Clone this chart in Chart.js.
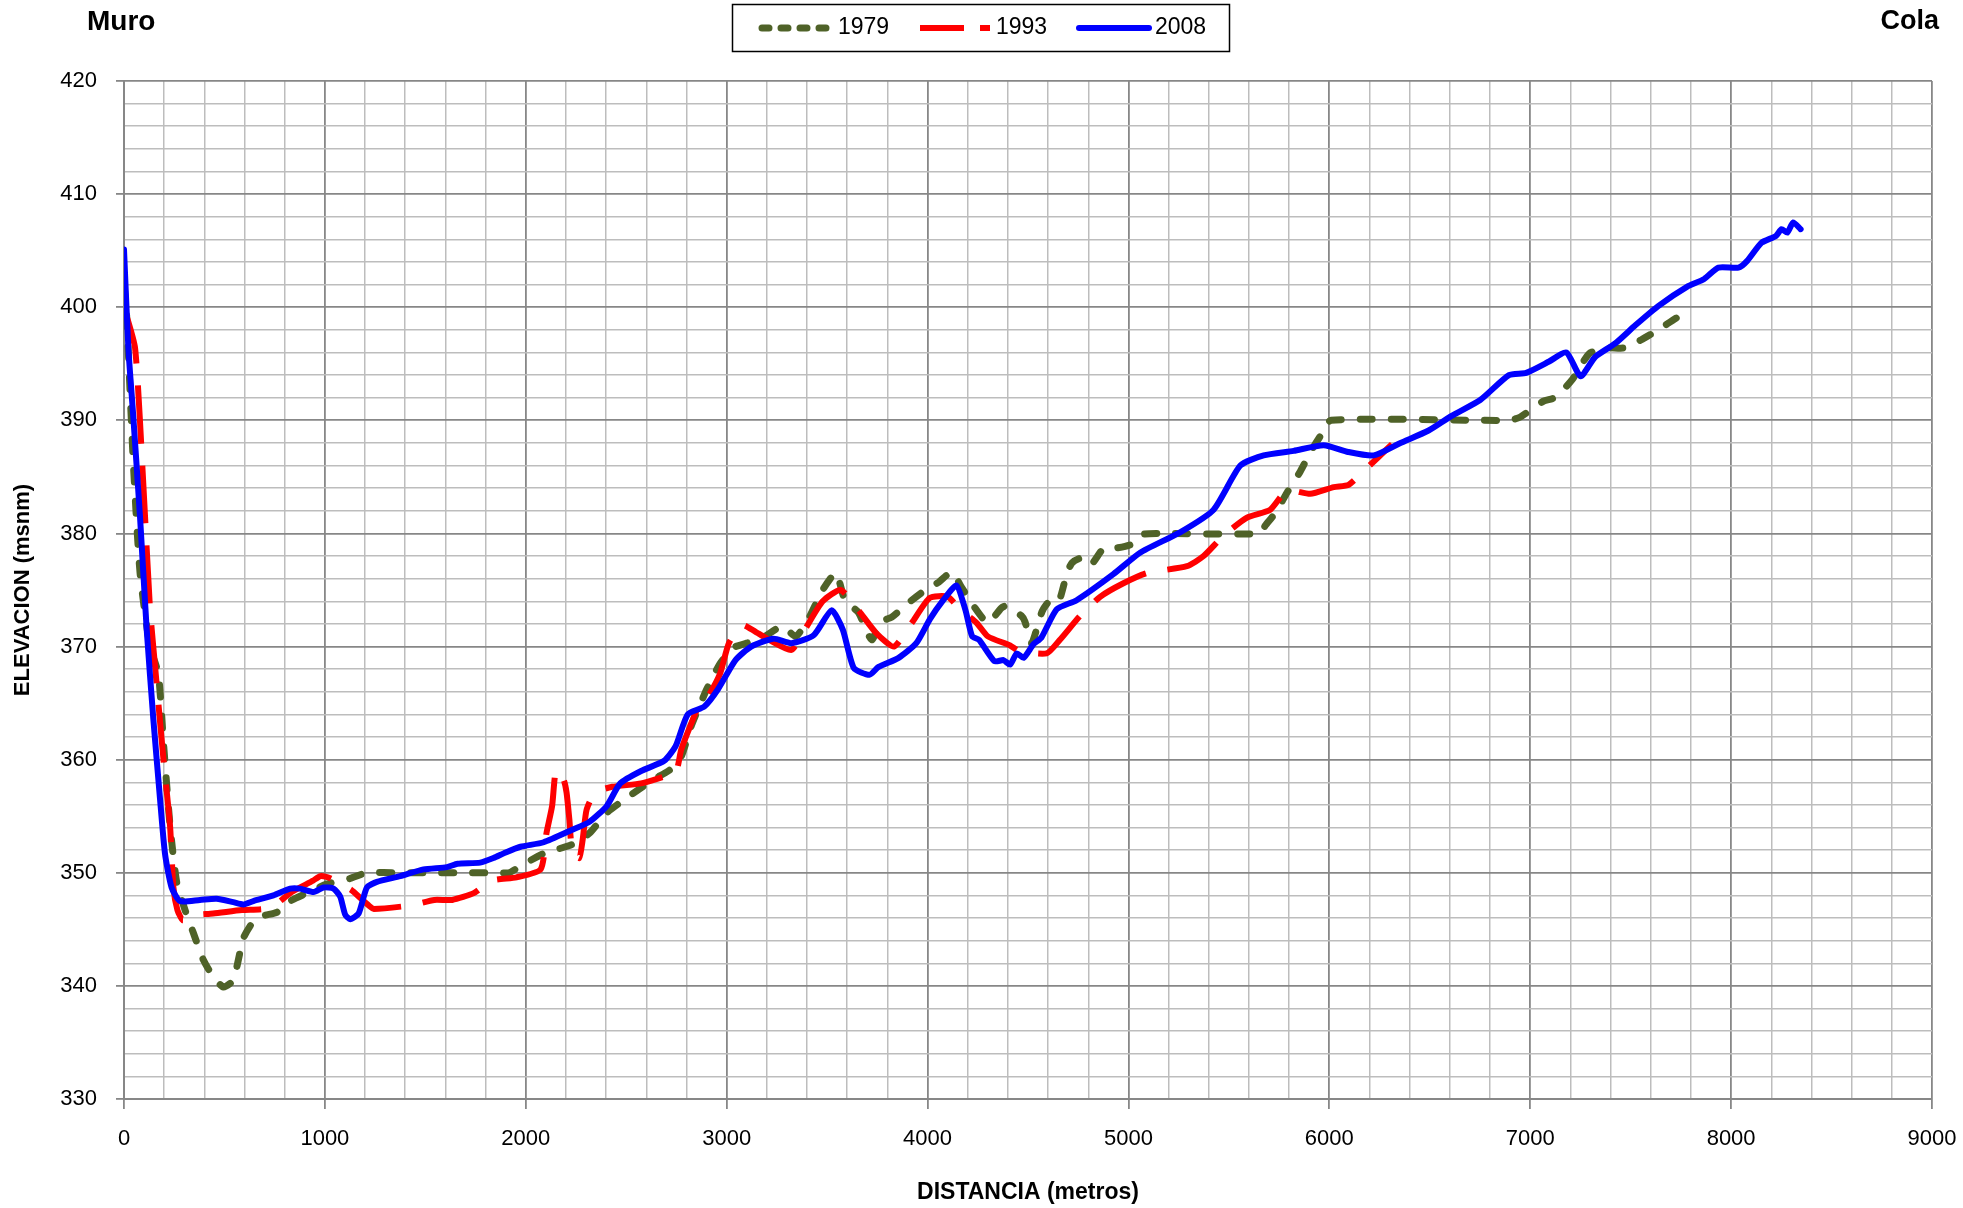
<!DOCTYPE html>
<html>
<head>
<meta charset="utf-8">
<title>Perfil longitudinal - Muro / Cola</title>
<script src="https://cdn.jsdelivr.net/npm/chart.js@4.4.1/dist/chart.umd.min.js"></script>
<style>
  html, body { margin: 0; padding: 0; background: #ffffff; }
  canvas { display: block; }
</style>
</head>
<body>
<canvas id="perfil" width="1963" height="1208"></canvas>
<script>
// Datos: distancia (m) y elevación (msnm) por levantamiento
const dist1979 = [0, 13, 46, 80, 129, 171, 196, 229, 262, 304, 345, 395, 445, 495, 544, 594, 644, 694, 760, 827,
    910, 1009, 1126, 1209, 1375, 1541, 1707, 1873, 1917, 1974, 2089, 2231, 2317, 2403, 2517, 2631, 2717, 2774, 2822, 2900,
    2967, 3033, 3100, 3189, 3278, 3344, 3411, 3478, 3544, 3589, 3656, 3722, 3767, 3822, 3900, 3989, 4056, 4122, 4167, 4233,
    4300, 4367, 4393, 4468, 4485, 4518, 4570, 4611, 4653, 4694, 4719, 4761, 4811, 4877, 4935, 5010, 5068, 5143, 5656, 5681,
    5731, 5789, 5856, 5906, 5955, 6009, 6894, 6951, 7066, 7123, 7209, 7294, 7380, 7466, 7551, 7637, 7723, 7809];
const elev1979 = [402, 399.3, 386.4, 376.5, 370.0, 367.6, 361.6, 354.2, 349.2, 346.7, 344.7, 342.3, 340.8, 339.9, 340.5, 344.2, 345.7, 346.2, 346.5, 347.5,
    348.2, 349.0, 349.5, 350.0, 350.0, 350.0, 350.0, 350.0, 350.0, 350.6, 351.7, 352.5, 353.5, 355.3, 356.8, 358.2, 359.1, 360.3, 362.9, 366.2,
    368.5, 369.9, 370.3, 370.9, 371.8, 370.9, 372.6, 375.0, 376.5, 374.1, 373.0, 370.6, 372.2, 372.6, 373.8, 375.0, 375.7, 376.6, 375.3, 373.5,
    372.1, 373.4, 373.6, 372.7, 372.2, 370.3, 373.1, 374.1, 374.0, 376.5, 377.4, 377.8, 377.2, 378.7, 378.7, 379.0, 379.9, 380.0, 380.0, 380.7,
    381.8, 383.6, 385.5, 387.2, 388.6, 390.0, 390.0, 390.3, 391.7, 392.0, 393.6, 395.9, 396.4, 396.4, 397.1, 398.0, 399.0, 399.9];

const dist1993 = [0, 55, 96, 129, 163, 196, 229, 246, 266, 293, 320, 444, 586, 728, 835, 941, 977, 1030, 1066, 1130,
    1181, 1226, 1243, 1421, 1545, 1634, 1741, 1829, 1954, 2074, 2103, 2131, 2151, 2189, 2203, 2217, 2231, 2266, 2283, 2303,
    2346, 2431, 2574, 2689, 2746, 2774, 2817, 2860, 2911, 2967, 3011, 3078, 3144, 3211, 3322, 3389, 3478, 3567, 3656, 3744,
    3833, 3922, 4011, 4100, 4167, 4244, 4300, 4411, 4456, 4593, 4659, 4759, 4859, 4975, 5091, 5291, 5374, 5473, 5590, 5706,
    5789, 5905, 6022, 6096, 6188, 6312];
const elev1993 = [400, 396.4, 384.4, 373.5, 366.6, 360.1, 354.2, 348.7, 346.7, 345.8, 346.2, 346.4, 346.7, 346.9, 348.3, 349.3, 349.7, 349.5, 349.1, 348.5,
    347.7, 347.0, 346.8, 347.1, 347.6, 347.6, 348.2, 349.3, 349.6, 350.3, 353.5, 355.9, 359.1, 358.2, 357.1, 354.7, 352.0, 351.3, 352.9, 355.6,
    357.1, 357.6, 357.9, 358.5, 358.8, 360.9, 362.9, 364.7, 365.7, 367.6, 370.3, 371.9, 371.3, 370.6, 369.7, 371.5, 374.0, 375.0, 373.2, 371.2,
    370.0, 372.1, 374.3, 374.4, 373.2, 372.1, 370.9, 370.1, 369.6, 369.4, 370.6, 372.7, 374.4, 375.6, 376.5, 377.1, 378.0, 379.8, 381.4, 382.1,
    383.8, 383.5, 384.1, 384.3, 385.8, 387.9];

const dist2008 = [0, 22, 46, 80, 113, 146, 179, 204, 237, 279, 378, 461, 544, 594, 644, 744, 827, 877, 944, 993,
    1043, 1076, 1101, 1126, 1168, 1209, 1259, 1375, 1491, 1607, 1660, 1773, 1839, 1900, 1974, 2089, 2231, 2317, 2403, 2470,
    2574, 2689, 2746, 2806, 2889, 2956, 3044, 3122, 3233, 3322, 3433, 3522, 3578, 3633, 3711, 3756, 3856, 3944, 4011, 4078,
    4144, 4189, 4222, 4256, 4333, 4378, 4411, 4444, 4478, 4527, 4567, 4643, 4742, 4925, 5058, 5257, 5424, 5557, 5673, 5822,
    5972, 6094, 6221, 6354, 6494, 6609, 6751, 6894, 6980, 7094, 7180, 7251, 7323, 7423, 7523, 7637, 7780, 7866, 7937, 8037,
    8080, 8151, 8223, 8251, 8280, 8309, 8346];
const elev2008 = [405.1, 396.3, 390.4, 381.4, 371.5, 363.6, 356.6, 351.7, 348.7, 347.5, 347.6, 347.7, 347.4, 347.2, 347.5, 348.0, 348.6, 348.6, 348.3, 348.7,
    348.6, 347.9, 346.3, 345.9, 346.4, 348.7, 349.2, 349.7, 350.3, 350.5, 350.8, 350.9, 351.3, 351.8, 352.3, 352.7, 353.8, 354.5, 355.9, 357.9,
    359.0, 359.9, 361.2, 364.0, 364.7, 366.2, 368.8, 370.0, 370.7, 370.3, 371.0, 373.2, 371.5, 368.1, 367.5, 368.2, 369.0, 370.3, 372.4, 374.1,
    375.4, 373.2, 370.9, 370.6, 368.7, 368.8, 368.4, 369.4, 369.0, 370.2, 370.8, 373.3, 374.1, 376.4, 378.3, 380.1, 382.1, 386.0, 386.9, 387.3,
    387.8, 387.2, 386.9, 388.0, 389.1, 390.4, 391.8, 394.0, 394.2, 395.2, 396.0, 393.9, 395.6, 396.8, 398.4, 400.1, 401.8, 402.5, 403.5, 403.5,
    404.1, 405.7, 406.3, 406.9, 406.6, 407.5, 406.9];

// Ejes
const ejeX = { min: 0, max: 9000, paso: 200, mayor: 1000 };
const ejeY = { min: 330, max: 420, paso: 2, mayor: 10 };

const FUENTE = "'Liberation Sans', Arial, sans-serif";
const GRIS_MAYOR = '#878787';
const GRIS_MENOR = '#bdbdbd';

function aPuntos(xs, ys) {
    return xs.map((x, i) => ({ x: x, y: ys[i] }));
}

const series = [
    { label: '1979', color: '#4f6228', ancho: 7, dash: [12, 19], cap: 'round', orden: 3, xs: dist1979, ys: elev1979 },
    { label: '1993', color: '#ff0000', ancho: 6, dash: [58, 22], cap: 'butt', orden: 2, xs: dist1993, ys: elev1993 },
    { label: '2008', color: '#0000ff', ancho: 6, dash: [], cap: 'round', orden: 1, xs: dist2008, ys: elev2008 }
];

// Leyenda con recuadro y rótulos Muro / Cola
const decoracion = {
    id: 'decoracion',
    afterDraw(chart) {
        const ctx = chart.ctx;
        ctx.save();
        ctx.fillStyle = '#000';
        ctx.textBaseline = 'middle';
        ctx.font = 'bold 28px ' + FUENTE;
        ctx.textAlign = 'left';
        ctx.fillText('Muro', 87, 22);
        ctx.font = 'bold 27px ' + FUENTE;
        ctx.textAlign = 'right';
        ctx.fillText('Cola', 1939, 22);

        // Recuadro de la leyenda
        ctx.strokeStyle = '#000';
        ctx.lineWidth = 1.5;
        ctx.strokeRect(732.5, 4.5, 497, 47);

        const muestras = [
            { x0: 762, x1: 834, tx: 838 },
            { x0: 920, x1: 990, tx: 996 },
            { x0: 1079, x1: 1149, tx: 1155 }
        ];
        series.forEach((s, i) => {
            const m = muestras[i];
            ctx.beginPath();
            ctx.strokeStyle = s.color;
            ctx.lineWidth = s.ancho;
            ctx.lineCap = s.cap;
            ctx.setLineDash(i === 0 ? [7, 12] : (i === 1 ? [44, 16] : []));
            ctx.moveTo(m.x0, 28);
            ctx.lineTo(m.x1, 28);
            ctx.stroke();
            ctx.setLineDash([]);
            ctx.fillStyle = '#000';
            ctx.font = '23px ' + FUENTE;
            ctx.textAlign = 'left';
            ctx.fillText(s.label, m.tx, 28);
        });
        ctx.restore();
    }
};

const ctx = document.getElementById('perfil').getContext('2d');
const grafico = new Chart(ctx, {
    type: 'line',
    data: {
        datasets: series.map(s => ({
            label: s.label,
            data: aPuntos(s.xs, s.ys),
            borderColor: s.color,
            backgroundColor: s.color,
            borderWidth: s.ancho,
            borderDash: s.dash,
            borderCapStyle: s.cap,
            borderJoinStyle: 'round',
            pointRadius: 0,
            tension: 0.2,
            fill: false,
            order: s.orden
        }))
    },
    options: {
        responsive: false,
        animation: false,
        events: [],
        layout: { padding: { top: 81, right: 31, bottom: 0, left: 0 } },
        plugins: {
            legend: { display: false },
            tooltip: { enabled: false }
        },
        scales: {
            x: {
                type: 'linear',
                min: ejeX.min,
                max: ejeX.max,
                afterFit: (scale) => {
                    scale.height = 109;
                    scale.paddingLeft = 0;
                    scale.paddingRight = 0;
                },
                ticks: {
                    stepSize: ejeX.paso,
                    maxTicksLimit: 1000,
                    autoSkip: false,
                    maxRotation: 0,
                    padding: 17,
                    color: '#000',
                    font: { family: FUENTE, size: 22 },
                    callback: (v) => (v % ejeX.mayor === 0 ? String(v) : '')
                },
                grid: {
                    color: (c) => (c.tick && c.tick.value % ejeX.mayor === 0 ? GRIS_MAYOR : GRIS_MENOR),
                    lineWidth: (c) => (c.tick && c.tick.value % ejeX.mayor === 0 ? 1.8 : 1.5),
                    tickColor: (c) => (c.tick && c.tick.value % ejeX.mayor === 0 ? GRIS_MAYOR : 'rgba(0,0,0,0)'),
                    tickLength: 10
                },
                border: { color: GRIS_MAYOR, width: 2 },
                title: {
                    display: true,
                    text: 'DISTANCIA (metros)',
                    color: '#000',
                    font: { family: FUENTE, size: 23, weight: 'bold' },
                    padding: { top: 0, bottom: 2 }
                }
            },
            y: {
                type: 'linear',
                min: ejeY.min,
                max: ejeY.max,
                afterFit: (scale) => {
                    scale.width = 124;
                    scale.paddingTop = 0;
                    scale.paddingBottom = 0;
                },
                ticks: {
                    stepSize: ejeY.paso,
                    maxTicksLimit: 1000,
                    autoSkip: false,
                    padding: 19,
                    color: '#000',
                    font: { family: FUENTE, size: 22 },
                    callback: (v) => (v % ejeY.mayor === 0 ? String(v) : '')
                },
                grid: {
                    color: (c) => (c.tick && c.tick.value % ejeY.mayor === 0 ? GRIS_MAYOR : GRIS_MENOR),
                    lineWidth: (c) => (c.tick && c.tick.value % ejeY.mayor === 0 ? 1.8 : 1.5),
                    tickColor: (c) => (c.tick && c.tick.value % ejeY.mayor === 0 ? GRIS_MAYOR : 'rgba(0,0,0,0)'),
                    tickLength: 8
                },
                border: { color: GRIS_MAYOR, width: 2 },
                title: {
                    display: true,
                    text: 'ELEVACION (msnm)',
                    color: '#000',
                    font: { family: FUENTE, size: 22, weight: 'bold' },
                    padding: { top: 10, bottom: 0 }
                }
            }
        }
    },
    plugins: [decoracion]
});
</script>
</body>
</html>
